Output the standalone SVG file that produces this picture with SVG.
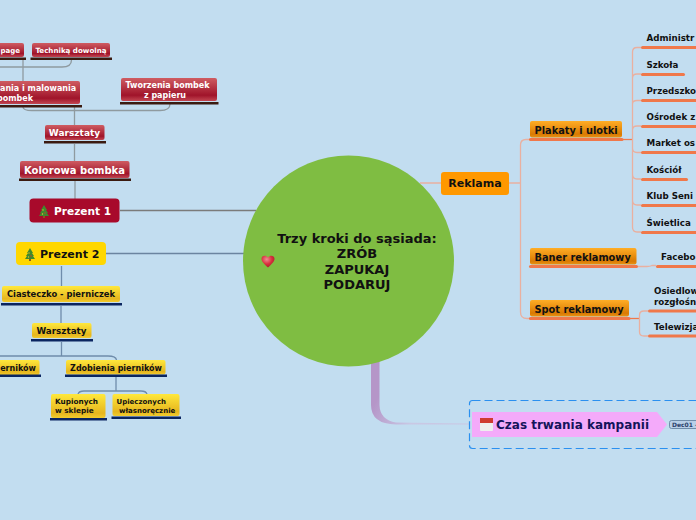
<svg xmlns="http://www.w3.org/2000/svg" width="696" height="520" viewBox="0 0 696 520">
<style>
text{font-family:"DejaVu Sans",sans-serif;font-weight:bold}
.r{fill:url(#gr)}.y{fill:url(#gy)}.o{fill:url(#go)}
.rb{fill:#3a1a10}.yb{fill:#0a2560}.ob{fill:#f0784a}
.w{fill:#fff}.k{fill:#111}
.cr{fill:none;stroke:#8f9a9f;stroke-width:1.300}
.cy{fill:none;stroke:#6f8cab;stroke-width:1.300}
.co{fill:none;stroke:#e9b0a0;stroke-width:1.300}
.cod{fill:none;stroke:#f0784a;stroke-width:1.300}
</style>
<defs>
<linearGradient id="gr" x1="0" y1="0" x2="0" y2="1"><stop offset="0" stop-color="#cf5c62"/><stop offset=".75" stop-color="#a0142a"/><stop offset="1" stop-color="#c24652"/></linearGradient>
<linearGradient id="gy" x1="0" y1="0" x2="0" y2="1"><stop offset="0" stop-color="#ffe83c"/><stop offset=".8" stop-color="#e6b61e"/><stop offset="1" stop-color="#f2cc2e"/></linearGradient>
<linearGradient id="go" x1="0" y1="0" x2="0" y2="1"><stop offset="0" stop-color="#ffad26"/><stop offset=".8" stop-color="#d97a02"/><stop offset="1" stop-color="#e89214"/></linearGradient>
<linearGradient id="gp" gradientUnits="userSpaceOnUse" x1="374" y1="405" x2="410" y2="424"><stop offset="0" stop-color="#b596c8"/><stop offset="1" stop-color="#c9c8e4"/></linearGradient>
<radialGradient id="gh" cx=".4" cy=".3" r=".8"><stop offset="0" stop-color="#f08a90"/><stop offset=".5" stop-color="#d8303e"/><stop offset="1" stop-color="#9a1a28"/></radialGradient>
<g id="tree"><path d="M5 0 8 5 7 5 9 8 8 8 10 11H0L2 8H1L3 5H2Z" fill="#3f8a2e"/><rect x="4" y="11" width="2" height="2" fill="#8a5a20"/><circle cx="4" cy="5" r=".7" fill="#e8c030"/><circle cx="6" cy="8" r=".7" fill="#e03030"/><circle cx="3.500" cy="9" r=".7" fill="#e8c030"/></g>
</defs>
<rect width="696" height="520" fill="#c2ddf0"/>
<g id="connectors">
<path class="cr" d="M0 67H62Q71.500 67 71.500 60"/>
<path class="cr" d="M23 60V81"/>
<path class="cr" d="M23 107Q23 110.500 32 110.500H160Q170 110.500 170 104"/>
<path class="cr" d="M74.500 107V125M74.500 144V161M75 181V199"/>
<path d="M120 210.500H256" fill="none" stroke="#7b7b7b" stroke-width="1.300"/>
<path d="M106 253.500H244" fill="none" stroke="#6b84a0" stroke-width="1.300"/>
<path class="cy" d="M61.500 266V286M61 306V323M61.500 342V356"/>
<path class="cy" d="M0 356H108Q116 356 116.500 360"/>
<path class="cy" d="M116 377V391"/>
<path class="cy" d="M78 394Q79 391 84 391H141Q146 391 147 394"/>
<path class="co" d="M420 183H441M509 183H520.500"/>
<path class="co" d="M530 139.500H526Q520.500 139.500 520.500 145V312Q520.500 318.500 527 318.500H530"/>
<path class="cod" d="M623 139.500H632.500"/>
<path class="co" d="M641 47.500H637Q632.500 47.500 632.500 52V227Q632.500 232 637 232H641M632.500 78Q632.500 74 637 74H641M632.500 104Q632.500 100.500 637 100.500H641M632.500 130Q632.500 126 637 126H641M632.500 148Q632.500 152.500 637 152.500H641M632.500 174Q632.500 179 637 179H641M632.500 200Q632.500 205 637 205H641"/>
<path class="co" d="M638 266.500H647Q650 266.500 652 265.500H656"/>
<path class="cod" d="M630 318.500H639.500"/>
<path class="co" d="M648 311H644Q639.500 311 639.500 315V332Q639.500 336 644 336H648"/>
<path d="M371 360H379.500V405Q380 420 396 422.500L469 423.500V424.500H396Q371 424 371 405Z" fill="url(#gp)"/>
</g>
<g id="center"><circle cx="348.500" cy="261" r="105.500" fill="#7fbd42"/>
<g class="k" font-size="13" text-anchor="middle"><text x="357" y="243">Trzy kroki do sąsiada:</text><text x="357" y="258">ZRÓB</text><text x="357" y="273.500">ZAPUKAJ</text><text x="357" y="289">PODARUJ</text></g>
<path d="M268 267.500C264 264 261.500 261.500 261.500 258.800C261.500 256 265.500 254.500 268 257.500C270.500 254.500 274.500 256 274.500 258.800C274.500 261.500 272 264 268 267.500Z" fill="url(#gh)"/></g>
<g id="n-decoupage"><rect class="r" x="-40" y="43" width="64" height="14" rx="2"/><rect class="rb" x="-40" y="57.500" width="66" height="2.500"/><text class="w" font-size="7" x="20" y="53" text-anchor="end">page</text></g>
<g id="n-technika"><rect class="r" x="32" y="43" width="78" height="14" rx="2"/><rect class="rb" x="30.500" y="57.500" width="81.500" height="2.500"/><text class="w" font-size="7.100" x="71" y="53" text-anchor="middle">Techniką dowolną</text></g>
<g id="n-malowania"><rect class="r" x="-30" y="81" width="110" height="23" rx="2"/><rect class="rb" x="-30" y="105" width="112" height="2.500"/><text class="w" font-size="8"><tspan x="0" y="91">ania i malowania</tspan><tspan x="-3" y="101">bombek</tspan></text></g>
<g id="n-tworzenia"><rect class="r" x="121" y="78" width="96" height="23" rx="2"/><rect class="rb" x="120" y="102" width="98.500" height="2.500"/><text class="w" font-size="8" text-anchor="middle"><tspan x="167.500" y="88">Tworzenia bombek</tspan><tspan x="165" y="98">z papieru</tspan></text></g>
<g id="n-warsztaty1"><rect class="r" x="45" y="125" width="59.500" height="15" rx="2"/><rect class="rb" x="44" y="141" width="62" height="2.500"/><text class="w" font-size="9" x="74.500" y="136" text-anchor="middle">Warsztaty</text></g>
<g id="n-kolorowa"><rect class="r" x="20" y="161" width="109.500" height="17" rx="2"/><rect class="rb" x="19" y="178.500" width="112" height="2.500"/><text class="w" font-size="10" x="74.500" y="174" text-anchor="middle">Kolorowa bombka</text></g>
<g id="n-prezent1"><rect x="29.500" y="198.500" width="90" height="24" rx="4" fill="#a80a2b"/><use href="#tree" x="39" y="205"/><text class="w" font-size="10.600" x="54" y="215">Prezent 1</text></g>
<g id="n-prezent2"><rect x="16" y="242" width="90" height="23" rx="4" fill="#ffd700"/><use href="#tree" x="25" y="248"/><text class="k" font-size="11" x="40" y="258">Prezent 2</text></g>
<g id="n-ciasteczko"><rect class="y" x="2" y="286" width="118" height="16" rx="2"/><rect class="yb" x="1" y="303" width="121" height="2.500"/><text class="k" font-size="8.400" x="61" y="297" text-anchor="middle">Ciasteczko - pierniczek</text></g>
<g id="n-warsztaty2"><rect class="y" x="32" y="323" width="59.500" height="15" rx="2"/><rect class="yb" x="31" y="339" width="62" height="2.500"/><text class="k" font-size="8.800" x="61.500" y="334" text-anchor="middle">Warsztaty</text></g>
<g id="n-pierników"><rect class="y" x="-30" y="360" width="69.500" height="15" rx="2"/><rect class="yb" x="-30" y="374.500" width="71" height="2.500"/><text class="k" font-size="8" x="36" y="370.500" text-anchor="end">erników</text></g>
<g id="n-zdobienia"><rect class="y" x="66" y="360" width="99.500" height="14.500" rx="2"/><rect class="yb" x="65" y="374.500" width="102" height="2.500"/><text class="k" font-size="8" x="116" y="370.500" text-anchor="middle">Zdobienia pierników</text></g>
<g id="n-kupionych"><rect class="y" x="51" y="394" width="54.500" height="24" rx="2"/><rect class="yb" x="50" y="418" width="57" height="2.500"/><text class="k" font-size="7.300"><tspan x="55" y="404">Kupionych</tspan><tspan x="55" y="413">w sklepie</tspan></text></g>
<g id="n-upieczonych"><rect class="y" x="112.500" y="394" width="67" height="22" rx="2"/><rect class="yb" x="111.500" y="416.500" width="69.500" height="2.500"/><text class="k" font-size="7"><tspan x="116.500" y="404">Upieczonych</tspan><tspan x="119" y="413">własnoręcznie</tspan></text></g>
<g id="n-reklama"><rect x="441" y="172" width="68" height="23" rx="3" fill="#ff9800"/><text class="k" font-size="11" x="475" y="187" text-anchor="middle">Reklama</text></g>
<g id="n-plakaty"><rect class="o" x="530" y="121" width="92" height="16.500" rx="2"/><rect class="ob" x="529" y="138" width="94.500" height="3" rx="1.500"/><text class="k" font-size="9.800" x="534.500" y="133.500">Plakaty i ulotki</text></g>
<g id="n-baner"><rect class="o" x="530" y="248" width="106.500" height="16.500" rx="2"/><rect class="ob" x="529" y="265" width="109" height="3" rx="1.500"/><text class="k" font-size="9.800" x="534.500" y="260.500">Baner reklamowy</text></g>
<g id="n-spot"><rect class="o" x="530" y="300" width="99" height="16.500" rx="2"/><rect class="ob" x="529" y="317" width="101.500" height="3" rx="1.500"/><text class="k" font-size="9.800" x="534.500" y="312.500">Spot reklamowy</text></g>
<g class="k" font-size="8.700">
<g id="n-admin"><rect class="ob" x="641" y="46" width="60" height="3" rx="1.500"/><text x="646.500" y="41">Administr</text></g>
<g id="n-szkola"><rect class="ob" x="641" y="73" width="44" height="3" rx="1.500"/><text x="646.500" y="68">Szkoła</text></g>
<g id="n-przedszkole"><rect class="ob" x="641" y="99" width="60" height="3" rx="1.500"/><text x="646.500" y="94">Przedszko</text></g>
<g id="n-osrodek"><rect class="ob" x="641" y="125" width="60" height="3" rx="1.500"/><text x="646.500" y="120">Ośrodek z</text></g>
<g id="n-market"><rect class="ob" x="641" y="151" width="60" height="3" rx="1.500"/><text x="646.500" y="146">Market os</text></g>
<g id="n-kosciol"><rect class="ob" x="641" y="178" width="47" height="3" rx="1.500"/><text x="646.500" y="173">Kościół</text></g>
<g id="n-klub"><rect class="ob" x="641" y="204" width="60" height="3" rx="1.500"/><text x="646.500" y="199">Klub Seni</text></g>
<g id="n-swietlica"><rect class="ob" x="641" y="231" width="60" height="3" rx="1.500"/><text x="646.500" y="226">Świetlica</text></g>
<g id="n-facebook"><rect class="ob" x="656" y="265" width="45" height="3" rx="1.500"/><text x="661" y="260">Facebo</text></g>
<g id="n-osiedlowa"><rect class="ob" x="648" y="309.500" width="53" height="3" rx="1.500"/><text><tspan x="654" y="294">Osiedlow</tspan><tspan x="654" y="305">rozgłośn</tspan></text></g>
<g id="n-telewizja"><rect class="ob" x="648" y="334.500" width="53" height="3" rx="1.500"/><text x="654" y="330">Telewizja</text></g>
</g>
<g id="n-czas"><rect x="469.500" y="400.500" width="240" height="48" rx="3" fill="none" stroke="#2a90f0" stroke-width="1.200" stroke-dasharray="8 4"/>
<path d="M472 412H657L667 424.500 657 437H472Z" fill="#f4aafa"/>
<rect x="480" y="419" width="13" height="12" rx="1" fill="#eeeeee"/><rect x="480" y="418" width="13" height="5" fill="#cf3b30"/>
<text font-size="12" x="496" y="429" fill="#14145a">Czas trwania kampanii</text>
<rect x="669.500" y="420.500" width="40" height="8" rx="2" fill="#b8d0e8" stroke="#5a7a9a" stroke-width=".8"/><text font-size="6" x="672" y="426.500" fill="#2a3f6a">Dec01 -</text></g>
</svg>
